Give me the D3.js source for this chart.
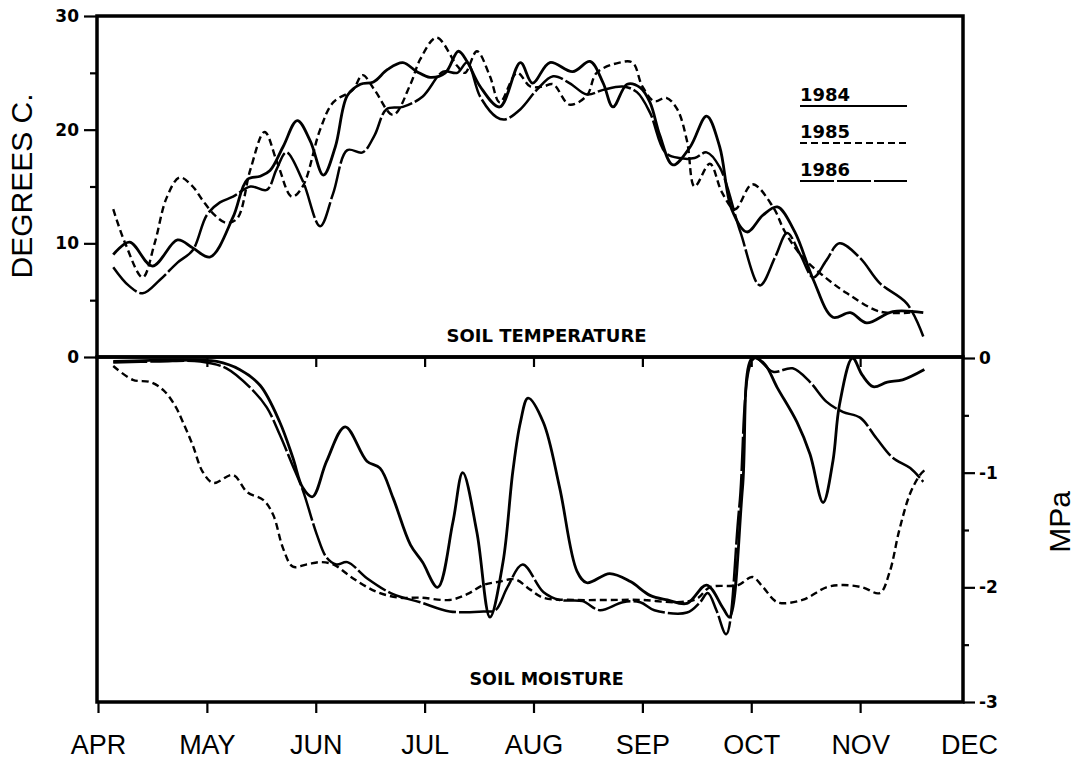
<!DOCTYPE html>
<html><head><meta charset="utf-8">
<script src="https://cdn.jsdelivr.net/npm/d3@7/dist/d3.min.js"></script>
<style>body{margin:0;background:#fff}svg{display:block}</style>
</head><body>
<svg id="c" width="1080" height="759"></svg>
<script>
// ---------- data ----------
const months = ["APR","MAY","JUN","JUL","AUG","SEP","OCT","NOV","DEC"];
const tempTicks = [0,10,20,30];
const tempMinor = [5,15,25];
const mpaTicks = [0,-1,-2,-3];
const mpaMinor = [-0.5,-1.5,-2.5];
const years = ["1984","1985","1986"];

// x = months after 1 April, y = soil temperature (deg C)
const temp1984 = [[.14,9.0],[.29,10.1],[.50,8.0],[.73,10.3],[.87,9.6],[1.03,8.8],[1.24,12.3],[1.37,15.6],[1.49,15.9],[1.58,16.4],[1.70,18.5],[1.83,20.8],[1.95,19.0],[2.07,16.0],[2.18,18.5],[2.29,23.0],[2.41,24.0],[2.53,24.2],[2.66,25.3],[2.80,25.9],[2.93,25.1],[3.05,24.6],[3.19,25.0],[3.31,26.9],[3.39,26.0],[3.51,23.8],[3.69,22.0],[3.88,25.9],[3.99,24.1],[4.15,25.9],[4.36,25.1],[4.52,26.0],[4.64,24.1],[4.73,22.0],[4.86,24.0],[4.98,23.7],[5.07,22.4],[5.16,19.5],[5.28,16.9],[5.44,18.5],[5.59,21.2],[5.71,18.5],[5.82,13.0],[5.96,11.0],[6.11,12.5],[6.24,13.2],[6.40,11.0],[6.57,6.8],[6.75,3.5],[6.91,3.9],[7.06,3.0],[7.30,4.0],[7.58,3.9]];
const temp1985 = [[.14,13.0],[.25,10.0],[.41,7.0],[.52,10.0],[.63,14.0],[.75,15.8],[.87,15.0],[.96,13.8],[1.07,12.5],[1.18,11.8],[1.28,12.2],[1.40,16.5],[1.53,19.8],[1.65,17.0],[1.78,14.1],[1.88,15.0],[2.04,20.0],[2.16,22.4],[2.34,23.5],[2.43,24.8],[2.54,23.5],[2.71,21.3],[2.87,24.0],[2.96,26.2],[3.11,28.1],[3.30,25.6],[3.37,25.0],[3.48,26.9],[3.60,24.7],[3.69,22.4],[3.85,25.0],[3.97,23.8],[4.09,23.8],[4.18,24.0],[4.33,22.2],[4.49,23.0],[4.58,25.0],[4.79,25.9],[4.91,25.9],[5.00,23.8],[5.11,22.5],[5.22,22.8],[5.32,21.8],[5.41,19.0],[5.48,15.0],[5.62,17.0],[5.73,14.5],[5.85,13.0],[6.01,15.2],[6.20,13.2],[6.31,11.0],[6.47,8.8],[6.68,7.0],[6.88,5.6],[7.18,4.0],[7.46,3.9]];
const temp1986 = [[.14,7.9],[.28,6.3],[.41,5.6],[.57,6.8],[.73,8.3],[.87,9.4],[1.00,12.5],[1.12,13.6],[1.24,14.1],[1.40,15.0],[1.55,14.7],[1.64,16.5],[1.73,18.0],[1.88,15.5],[2.04,11.5],[2.16,14.4],[2.29,18.2],[2.43,18.0],[2.54,19.5],[2.65,21.8],[2.80,22.0],[2.98,22.9],[3.17,25.1],[3.30,25.0],[3.39,25.9],[3.51,22.9],[3.66,21.1],[3.74,20.9],[3.88,21.8],[4.03,23.5],[4.18,24.7],[4.33,24.1],[4.49,23.1],[4.64,23.5],[4.82,23.8],[4.95,23.3],[5.07,21.5],[5.21,18.0],[5.34,17.5],[5.48,17.5],[5.59,18.0],[5.71,16.7],[5.90,11.0],[6.08,6.3],[6.22,8.8],[6.33,10.9],[6.45,9.0],[6.57,7.0],[6.69,8.5],[6.81,10.0],[7.00,8.7],[7.18,6.5],[7.43,4.7],[7.58,1.8]];

// x = months after 1 April, y = soil water potential (MPa)
const mpa1984 = [[.14,-0.03],[.48,-0.02],[.94,-0.02],[1.09,-0.03],[1.30,-0.10],[1.49,-0.24],[1.67,-0.56],[1.79,-0.87],[1.88,-1.13],[1.97,-1.21],[2.10,-0.90],[2.27,-0.60],[2.47,-0.90],[2.59,-0.96],[2.71,-1.22],[2.87,-1.63],[2.98,-1.78],[3.12,-2.00],[3.26,-1.43],[3.35,-1.00],[3.48,-1.52],[3.60,-2.26],[3.72,-1.78],[3.81,-0.99],[3.88,-0.56],[3.95,-0.35],[4.09,-0.56],[4.24,-1.13],[4.40,-1.86],[4.49,-1.96],[4.70,-1.88],[4.89,-1.95],[5.07,-2.07],[5.23,-2.11],[5.41,-2.14],[5.59,-1.98],[5.74,-2.18],[5.80,-2.26],[5.92,-1.13],[6.01,0.00],[6.12,-0.05],[6.24,-0.26],[6.42,-0.56],[6.54,-0.84],[6.66,-1.26],[6.75,-0.90],[6.81,-0.41],[6.93,0.00],[7.02,-0.15],[7.12,-0.25],[7.25,-0.21],[7.39,-0.19],[7.59,-0.10]];
const mpa1985 = [[.14,-0.07],[.32,-0.19],[.48,-0.21],[.60,-0.28],[.71,-0.42],[.78,-0.56],[.87,-0.76],[.96,-0.99],[1.06,-1.09],[1.24,-1.02],[1.37,-1.17],[1.52,-1.24],[1.61,-1.37],[1.70,-1.66],[1.79,-1.82],[1.92,-1.80],[2.04,-1.78],[2.16,-1.80],[2.34,-1.92],[2.56,-2.04],[2.77,-2.09],[2.96,-2.09],[3.23,-2.11],[3.39,-2.06],[3.54,-1.98],[3.69,-1.95],[3.83,-1.93],[3.97,-2.02],[4.09,-2.09],[4.40,-2.11],[4.70,-2.11],[5.00,-2.11],[5.32,-2.13],[5.50,-2.10],[5.62,-2.00],[5.88,-1.98],[6.01,-1.91],[6.11,-2.00],[6.24,-2.13],[6.47,-2.11],[6.69,-2.00],[6.84,-1.98],[7.02,-2.00],[7.18,-2.05],[7.27,-1.87],[7.36,-1.50],[7.46,-1.18],[7.55,-1.02],[7.59,-0.98]];
const mpa1986 = [[.14,-0.04],[.57,-0.03],[.94,-0.03],[1.18,-0.09],[1.40,-0.26],[1.55,-0.43],[1.67,-0.67],[1.78,-0.92],[1.88,-1.15],[2.01,-1.54],[2.10,-1.74],[2.19,-1.80],[2.29,-1.78],[2.47,-1.92],[2.71,-2.06],[2.96,-2.13],[3.23,-2.21],[3.54,-2.21],[3.65,-2.20],[3.76,-2.00],[3.90,-1.80],[4.09,-2.04],[4.24,-2.11],[4.45,-2.12],[4.61,-2.20],[4.82,-2.13],[4.98,-2.13],[5.11,-2.20],[5.41,-2.22],[5.53,-2.13],[5.60,-2.05],[5.68,-2.20],[5.77,-2.41],[5.89,-1.30],[6.03,0.00],[6.20,-0.12],[6.38,-0.09],[6.54,-0.21],[6.69,-0.38],[6.84,-0.47],[7.00,-0.52],[7.15,-0.70],[7.30,-0.87],[7.46,-0.96],[7.58,-1.08]];

// ---------- layout ----------
const svg = d3.select("#c");
const L = 97, R = 963, T = 16, M = 357, B = 702;
const x = d3.scaleLinear().domain([0, 8]).range([98, 969]);
const yT = d3.scaleLinear().domain([0, 30]).range([M, T]);
const yM = d3.scaleLinear().domain([-3, 0]).range([B, M + 1]);

const styles = {
  "1984": {dash: null, w: 2.8},
  "1985": {dash: "7,4", w: 2.4},
  "1986": {dash: "34,3", w: 2.5}
};

const defs = svg.append("defs");
defs.append("clipPath").attr("id","clipT").append("rect").attr("x",L).attr("y",T).attr("width",R-L).attr("height",M-T);
defs.append("clipPath").attr("id","clipB").append("rect").attr("x",L).attr("y",M).attr("width",R-L).attr("height",B-M);

const lineT = d3.line().x(d => x(d[0])).y(d => yT(d[1])).curve(d3.curveCatmullRom.alpha(0.5));
const lineB = d3.line().x(d => x(d[0])).y(d => yM(d[1])).curve(d3.curveCatmullRom.alpha(0.5));

const topSeries = {"1984": temp1984, "1985": temp1985, "1986": temp1986};
const botSeries = {"1984": mpa1984, "1985": mpa1985, "1986": mpa1986};

const gT = svg.append("g").attr("clip-path","url(#clipT)");
const gB = svg.append("g").attr("clip-path","url(#clipB)");
years.forEach(yr => {
  const s = styles[yr];
  gT.append("path").attr("d", lineT(topSeries[yr])).attr("fill","none").attr("stroke","#000")
    .attr("stroke-width", s.w).attr("stroke-dasharray", s.dash).attr("stroke-linejoin","round");
  gB.append("path").attr("d", lineB(botSeries[yr])).attr("fill","none").attr("stroke","#000")
    .attr("stroke-width", s.w).attr("stroke-dasharray", s.dash).attr("stroke-linejoin","round");
});

// frames
svg.append("rect").attr("x",L).attr("y",T).attr("width",R-L).attr("height",M-T)
  .attr("fill","none").attr("stroke","#000").attr("stroke-width",3.5);
svg.append("rect").attr("x",L).attr("y",M).attr("width",R-L).attr("height",B-M)
  .attr("fill","none").attr("stroke","#000").attr("stroke-width",3.5);

function styleAxis(g, size, weight, family) {
  g.attr("font-size", null).attr("font-family", null);
  g.select(".domain").remove();
  g.selectAll(".tick line").attr("stroke","#000").attr("stroke-width",2.2);
  g.selectAll(".tick text").attr("fill","#000").style("font-size", size+"px")
    .style("font-weight", weight).style("font-family", family);
}
const boldF = "'DejaVu Sans', sans-serif";
const sansF = "'Liberation Sans', Arial, sans-serif";

// left temperature axis (its 0 is shared with the moisture panel)
svg.append("g").attr("transform",`translate(${L},0)`)
  .call(d3.axisLeft(yT).tickValues(tempTicks).tickSize(13).tickPadding(5).tickFormat(d3.format("d")))
  .call(g => styleAxis(g, 17, "bold", boldF));
svg.append("g").attr("transform",`translate(${L},0)`)
  .call(d3.axisLeft(yT).tickValues(tempMinor).tickSize(7).tickFormat(""))
  .call(g => styleAxis(g, 17, "bold", boldF));

// right MPa axis
svg.append("g").attr("transform",`translate(${R},0)`)
  .call(d3.axisRight(yM).tickValues(mpaTicks).tickSize(12).tickPadding(4).tickFormat(d => d === 0 ? "0" : "-" + Math.abs(d)))
  .call(g => styleAxis(g, 17, "bold", boldF));
svg.append("g").attr("transform",`translate(${R},0)`)
  .call(d3.axisRight(yM).tickValues(mpaMinor).tickSize(6).tickFormat(""))
  .call(g => styleAxis(g, 17, "bold", boldF));

// ticks on shared middle line (into moisture panel)
svg.append("g").attr("transform",`translate(0,${M})`)
  .call(d3.axisBottom(x).tickValues(d3.range(1,8)).tickSize(10).tickFormat(""))
  .call(g => styleAxis(g, 14, "bold", boldF));
// bottom ticks
svg.append("g").attr("transform",`translate(0,${B})`)
  .call(d3.axisBottom(x).tickValues(d3.range(0,8)).tickSize(11).tickFormat(""))
  .call(g => styleAxis(g, 14, "bold", boldF));
// month labels
svg.append("g").attr("transform",`translate(0,${B})`)
  .call(d3.axisBottom(x).tickValues(d3.range(0,9)).tickSize(0).tickPadding(33).tickFormat(i => months[i]))
  .call(g => styleAxis(g, 27, "normal", sansF))
  .call(g => g.selectAll(".tick line").remove());

// axis titles
svg.append("text").attr("transform","translate(32,186) rotate(-90)").attr("text-anchor","middle")
  .style("font-family", sansF).style("font-size","30px").text("DEGREES C.");
svg.append("text").attr("transform","translate(1070,522) rotate(-90)").attr("text-anchor","middle")
  .style("font-family", sansF).style("font-size","30px").text("MPa");

// panel captions
svg.append("text").attr("x", x(4.12)).attr("y", 342).attr("text-anchor","middle")
  .style("font-family", boldF).style("font-weight","bold").style("font-size","18px").text("SOIL TEMPERATURE");
svg.append("text").attr("x", x(4.12)).attr("y", 685).attr("text-anchor","middle")
  .style("font-family", boldF).style("font-weight","bold").style("font-size","17.5px").text("SOIL MOISTURE");

// legend
const legY = [101, 138, 176];
years.forEach((yr, i) => {
  const s = styles[yr];
  svg.append("text").attr("x", 800).attr("y", legY[i])
    .style("font-family", boldF).style("font-weight","bold").style("font-size","18px").text(yr);
  svg.append("line").attr("x1", 800).attr("x2", 907).attr("y1", legY[i] + 5).attr("y2", legY[i] + 5)
    .attr("stroke","#000").attr("stroke-width", 2.2).attr("stroke-dasharray", s.dash);
});
</script>
</body></html>
